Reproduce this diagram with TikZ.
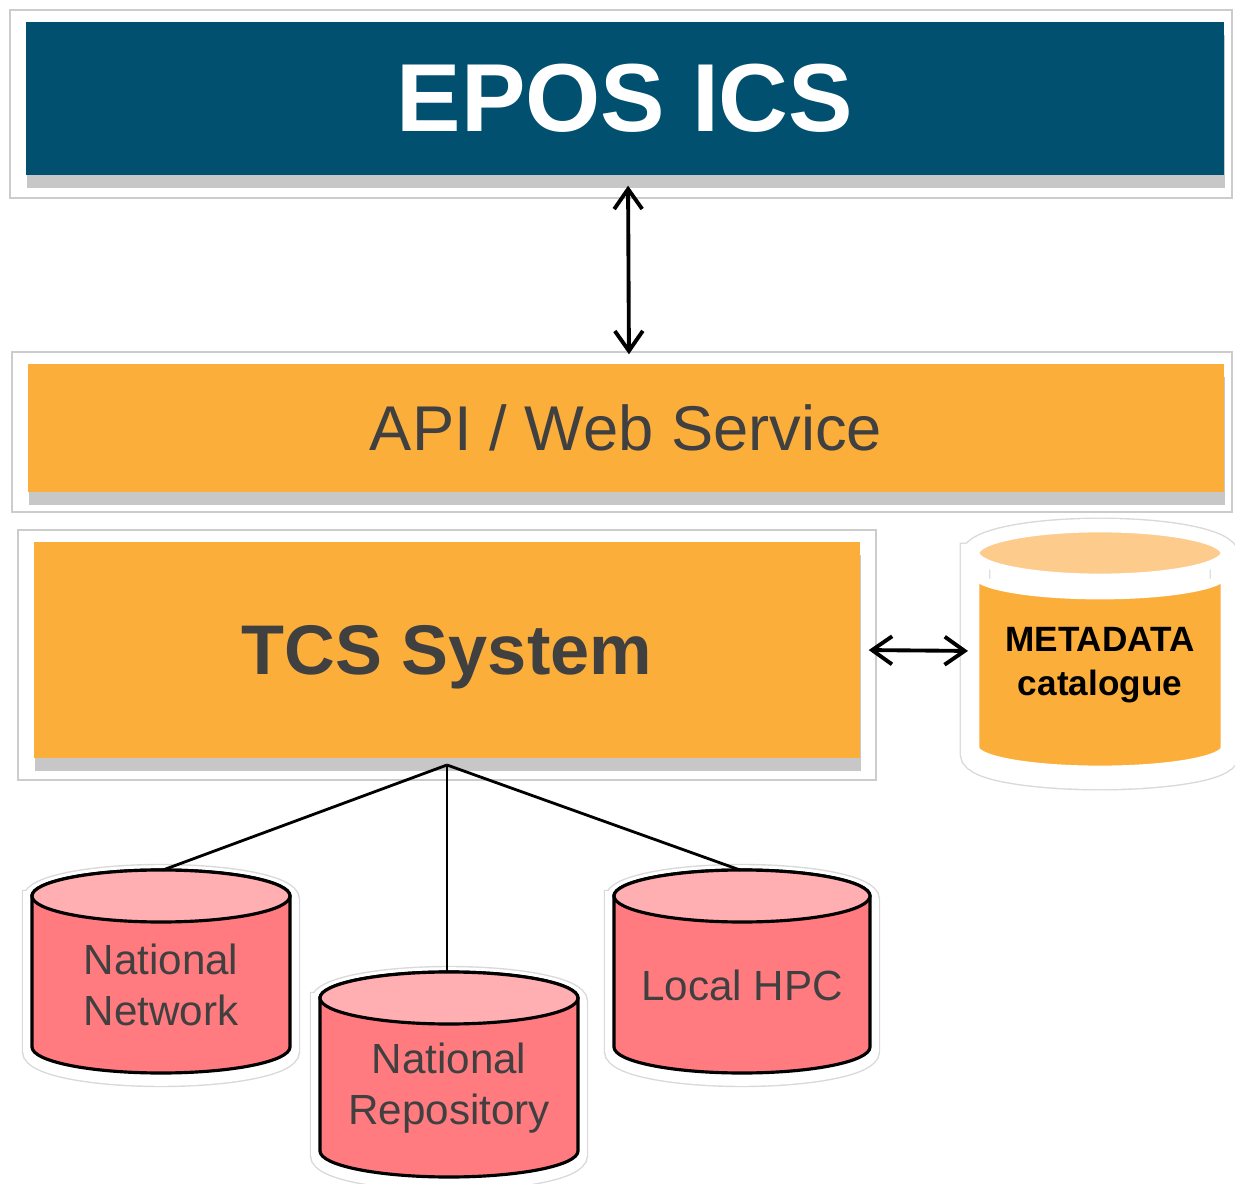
\documentclass[tikz,border=0pt]{standalone}
\usepackage{fontspec}
\setmainfont{Liberation Sans}
\usetikzlibrary{arrows.meta,shadows}
\definecolor{eposblue}{RGB}{2,80,112}
\definecolor{layerorange}{RGB}{252,174,59}
\definecolor{metatop}{RGB}{253,204,140}
\definecolor{dbred}{RGB}{255,123,127}
\definecolor{dbtop}{RGB}{255,174,177}
\definecolor{textgray}{RGB}{64,64,64}
\begin{document}
\begin{tikzpicture}[
    frame/.style={draw=black!20,line width=0.5pt,fill=white},
    layer/.style={rectangle,inner sep=0pt,drop shadow={shadow xshift=0.01cm,shadow yshift=-0.13cm,fill=black,opacity=0.22}},
    halo/.style={draw=black!15,line width=0.4pt,double=white,double distance=#1},
    dbtext/.style={align=center,inner sep=0pt,text=textgray,font=\fontsize{12}{14.4}\selectfont},
    link/.style={<->,>={Straight Barb[length=2mm,width=2.8mm]},line width=1.1pt},
  ]
  \useasboundingbox (0,0) rectangle (12.35,-11.84);
  \draw[frame] (0.10,-0.10) rectangle (12.32,-1.98);
  \draw[frame] (0.12,-3.52) rectangle (12.32,-5.12);
  \draw[frame] (0.18,-5.30) rectangle (8.76,-7.80);
  \node[layer,fill=eposblue,minimum width=11.98cm,minimum height=1.53cm,text=white,font=\bfseries\fontsize{27.5}{33}\selectfont] (epos) at (6.25,-0.985) {EPOS ICS};
  \node[layer,fill=layerorange,minimum width=11.96cm,minimum height=1.28cm,text=textgray,font=\fontsize{18}{22}\selectfont] (api) at (6.26,-4.28) {API / Web Service};
  \node[layer,fill=layerorange,minimum width=8.26cm,minimum height=2.16cm,text depth=0pt,text=textgray,font=\bfseries\fontsize{20}{24}\selectfont] (tcs) at (4.47,-6.50) {TCS System};
  \draw[halo=8pt,yshift=-0.05cm] (9.75,-5.53) -- (9.75,-7.48) arc[start angle=180,end angle=360,x radius=1.25,y radius=0.22] -- (12.25,-5.53) arc[start angle=0,end angle=180,x radius=1.25,y radius=0.25] -- cycle;
  \filldraw[fill=layerorange,draw=white,line width=2.5pt] (9.75,-5.73) -- (9.75,-7.48) arc[start angle=180,end angle=360,x radius=1.25,y radius=0.22] -- (12.25,-5.73) arc[start angle=0,end angle=-180,x radius=1.25,y radius=0.22] -- cycle;
  \filldraw[fill=metatop,draw=white,line width=2.5pt] (11.00,-5.53) ellipse[x radius=1.25,y radius=0.25];
  \node[inner sep=0pt,align=center,font=\bfseries\fontsize{10}{12.5}\selectfont] (meta) at (11.00,-6.65) {METADATA\\catalogue};
  \coordinate (metaleft) at (9.75,-6.51);
  \foreach \cx/\yt/\yb/\r in {1.61/-8.96/-10.47/1.29,4.49/-9.98/-11.51/1.29,7.42/-8.96/-10.47/1.28}{
    \draw[halo=5pt,yshift=-0.04cm] (\cx-\r,\yt) -- (\cx-\r,\yb) arc[start angle=180,end angle=360,x radius=\r,y radius=0.26] -- (\cx+\r,\yt) arc[start angle=0,end angle=180,x radius=\r,y radius=0.26] -- cycle;
    \filldraw[fill=dbred,line width=0.9pt] (\cx-\r,\yt) -- (\cx-\r,\yb) arc[start angle=180,end angle=360,x radius=\r,y radius=0.26] -- (\cx+\r,\yt) arc[start angle=0,end angle=180,x radius=\r,y radius=0.26] -- cycle;
    \filldraw[fill=dbtop,line width=0.9pt] (\cx,\yt) ellipse[x radius=\r,y radius=0.26];
  }
  \node[dbtext] (nn) at (1.61,-9.85) {National\\Network};
  \node[dbtext] (nr) at (4.49,-10.88) {National\\Repository};
  \node[dbtext] (hpc) at (7.42,-9.85) {Local HPC};
  \coordinate (nntop) at (1.63,-8.70);
  \coordinate (nrtop) at (4.47,-9.72);
  \coordinate (hpctop) at (7.40,-8.70);
  \coordinate (hub) at (4.47,-7.65);
  \draw[line width=0.8pt] (hub) -- (nntop);
  \draw[line width=0.8pt] (hub) -- (nrtop);
  \draw[line width=0.8pt] (hub) -- (hpctop);
  \draw[link,shorten <=0.1cm,shorten >=0.09cm] ([xshift=0.03cm]epos.south) -- ([xshift=0.03cm]api.north);
  \draw[link,shorten <=0.08cm,shorten >=0.07cm] (tcs.east) -- (metaleft);
\end{tikzpicture}
\end{document}
